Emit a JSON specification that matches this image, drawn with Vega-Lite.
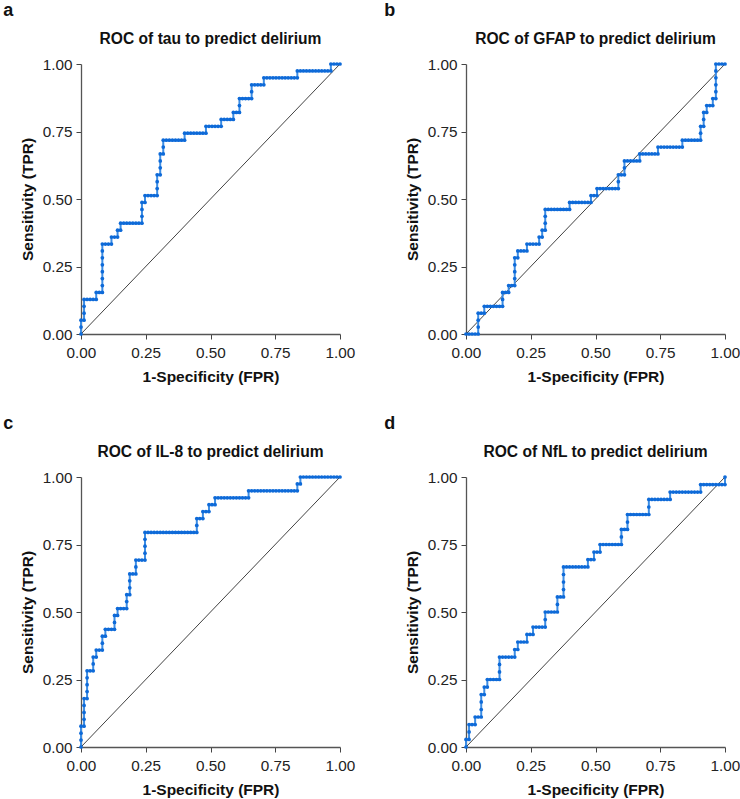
{
  "$schema": "https://vega.github.io/schema/vega-lite/v6.json",
  "background": "white",
  "padding": {"left": 3, "top": 2, "right": 0, "bottom": 0},
  "config": {
    "view": {"stroke": null},
    "font": "Liberation Sans",
    "axis": {"labelFont": "Liberation Sans", "labelFontSize": 15.3, "labelColor": "#222", "labelFlush": false, "labelOverlap": false, "titleFont": "Liberation Sans", "titleFontSize": 15.5, "titleFontWeight": "bold", "titleColor": "#111", "domainColor": "#555", "domainWidth": 1.3, "tickColor": "#444", "tickSize": 5, "grid": false},
    "axisX": {"labelPadding": 6, "titlePadding": 9},
    "axisY": {"labelPadding": 4, "titlePadding": 7},
    "title": {"font": "Liberation Sans", "fontSize": 15.6, "fontWeight": "bold", "color": "#111"}
  },
  "datasets": {
    "diag": [{"x": 0, "y": 0}, {"x": 1, "y": 1}],
    "a": [
      {"x":0,"y":0},{"x":0,"y":0.0256},{"x":0,"y":0.0513},{"x":0.0118,"y":0.0513},{"x":0.0118,"y":0.0769},{"x":0.0118,"y":0.1026},{"x":0.0118,"y":0.1282},{"x":0.0235,"y":0.1282},{"x":0.0353,"y":0.1282},{"x":0.0471,"y":0.1282},{"x":0.0588,"y":0.1282},{"x":0.0588,"y":0.1538},{"x":0.0706,"y":0.1538},{"x":0.0824,"y":0.1538},{"x":0.0824,"y":0.1795},{"x":0.0824,"y":0.2051},{"x":0.0824,"y":0.2308},{"x":0.0824,"y":0.2564},{"x":0.0824,"y":0.2821},{"x":0.0824,"y":0.3077},{"x":0.0824,"y":0.3333},{"x":0.0941,"y":0.3333},{"x":0.1059,"y":0.3333},{"x":0.1176,"y":0.3333},{"x":0.1176,"y":0.359},{"x":0.1294,"y":0.359},{"x":0.1412,"y":0.359},{"x":0.1412,"y":0.3846},{"x":0.1529,"y":0.3846},{"x":0.1529,"y":0.4103},{"x":0.1647,"y":0.4103},{"x":0.1765,"y":0.4103},{"x":0.1882,"y":0.4103},{"x":0.2,"y":0.4103},{"x":0.2118,"y":0.4103},{"x":0.2235,"y":0.4103},{"x":0.2353,"y":0.4103},{"x":0.2353,"y":0.4359},{"x":0.2353,"y":0.4615},{"x":0.2353,"y":0.4872},{"x":0.2471,"y":0.4872},{"x":0.2471,"y":0.5128},{"x":0.2588,"y":0.5128},{"x":0.2706,"y":0.5128},{"x":0.2824,"y":0.5128},{"x":0.2941,"y":0.5128},{"x":0.2941,"y":0.5385},{"x":0.2941,"y":0.5641},{"x":0.2941,"y":0.5897},{"x":0.3059,"y":0.5897},{"x":0.3059,"y":0.6154},{"x":0.3059,"y":0.641},{"x":0.3059,"y":0.6667},{"x":0.3176,"y":0.6667},{"x":0.3176,"y":0.6923},{"x":0.3176,"y":0.7179},{"x":0.3294,"y":0.7179},{"x":0.3412,"y":0.7179},{"x":0.3529,"y":0.7179},{"x":0.3647,"y":0.7179},{"x":0.3765,"y":0.7179},{"x":0.3882,"y":0.7179},{"x":0.4,"y":0.7179},{"x":0.4,"y":0.7436},{"x":0.4118,"y":0.7436},{"x":0.4235,"y":0.7436},{"x":0.4353,"y":0.7436},{"x":0.4471,"y":0.7436},{"x":0.4588,"y":0.7436},{"x":0.4706,"y":0.7436},{"x":0.4824,"y":0.7436},{"x":0.4824,"y":0.7692},{"x":0.4941,"y":0.7692},{"x":0.5059,"y":0.7692},{"x":0.5176,"y":0.7692},{"x":0.5294,"y":0.7692},{"x":0.5412,"y":0.7692},{"x":0.5412,"y":0.7949},{"x":0.5529,"y":0.7949},{"x":0.5647,"y":0.7949},{"x":0.5765,"y":0.7949},{"x":0.5882,"y":0.7949},{"x":0.5882,"y":0.8205},{"x":0.6,"y":0.8205},{"x":0.6118,"y":0.8205},{"x":0.6118,"y":0.8462},{"x":0.6118,"y":0.8718},{"x":0.6235,"y":0.8718},{"x":0.6353,"y":0.8718},{"x":0.6471,"y":0.8718},{"x":0.6588,"y":0.8718},{"x":0.6588,"y":0.8974},{"x":0.6588,"y":0.9231},{"x":0.6706,"y":0.9231},{"x":0.6824,"y":0.9231},{"x":0.6941,"y":0.9231},{"x":0.7059,"y":0.9231},{"x":0.7059,"y":0.9487},{"x":0.7176,"y":0.9487},{"x":0.7294,"y":0.9487},{"x":0.7412,"y":0.9487},{"x":0.7529,"y":0.9487},{"x":0.7647,"y":0.9487},{"x":0.7765,"y":0.9487},{"x":0.7882,"y":0.9487},{"x":0.8,"y":0.9487},{"x":0.8118,"y":0.9487},{"x":0.8235,"y":0.9487},{"x":0.8353,"y":0.9487},{"x":0.8353,"y":0.9744},{"x":0.8471,"y":0.9744},{"x":0.8588,"y":0.9744},{"x":0.8706,"y":0.9744},{"x":0.8824,"y":0.9744},{"x":0.8941,"y":0.9744},{"x":0.9059,"y":0.9744},{"x":0.9176,"y":0.9744},{"x":0.9294,"y":0.9744},{"x":0.9412,"y":0.9744},{"x":0.9529,"y":0.9744},{"x":0.9647,"y":0.9744},{"x":0.9647,"y":1},{"x":0.9765,"y":1},{"x":0.9882,"y":1},{"x":1,"y":1}
    ],
    "b": [
      {"x":0,"y":0},{"x":0.0118,"y":0},{"x":0.0235,"y":0},{"x":0.0353,"y":0},{"x":0.0471,"y":0},{"x":0.0471,"y":0.0256},{"x":0.0471,"y":0.0513},{"x":0.0471,"y":0.0769},{"x":0.0588,"y":0.0769},{"x":0.0706,"y":0.0769},{"x":0.0706,"y":0.1026},{"x":0.0824,"y":0.1026},{"x":0.0941,"y":0.1026},{"x":0.1059,"y":0.1026},{"x":0.1176,"y":0.1026},{"x":0.1294,"y":0.1026},{"x":0.1412,"y":0.1026},{"x":0.1412,"y":0.1282},{"x":0.1412,"y":0.1538},{"x":0.1529,"y":0.1538},{"x":0.1647,"y":0.1538},{"x":0.1647,"y":0.1795},{"x":0.1765,"y":0.1795},{"x":0.1882,"y":0.1795},{"x":0.1882,"y":0.2051},{"x":0.1882,"y":0.2308},{"x":0.1882,"y":0.2564},{"x":0.1882,"y":0.2821},{"x":0.2,"y":0.2821},{"x":0.2,"y":0.3077},{"x":0.2118,"y":0.3077},{"x":0.2235,"y":0.3077},{"x":0.2353,"y":0.3077},{"x":0.2353,"y":0.3333},{"x":0.2471,"y":0.3333},{"x":0.2588,"y":0.3333},{"x":0.2706,"y":0.3333},{"x":0.2824,"y":0.3333},{"x":0.2824,"y":0.359},{"x":0.2941,"y":0.359},{"x":0.2941,"y":0.3846},{"x":0.3059,"y":0.3846},{"x":0.3059,"y":0.4103},{"x":0.3059,"y":0.4359},{"x":0.3059,"y":0.4615},{"x":0.3176,"y":0.4615},{"x":0.3294,"y":0.4615},{"x":0.3412,"y":0.4615},{"x":0.3529,"y":0.4615},{"x":0.3647,"y":0.4615},{"x":0.3765,"y":0.4615},{"x":0.3882,"y":0.4615},{"x":0.4,"y":0.4615},{"x":0.4,"y":0.4872},{"x":0.4118,"y":0.4872},{"x":0.4235,"y":0.4872},{"x":0.4353,"y":0.4872},{"x":0.4471,"y":0.4872},{"x":0.4588,"y":0.4872},{"x":0.4706,"y":0.4872},{"x":0.4824,"y":0.4872},{"x":0.4824,"y":0.5128},{"x":0.4941,"y":0.5128},{"x":0.5059,"y":0.5128},{"x":0.5059,"y":0.5385},{"x":0.5176,"y":0.5385},{"x":0.5294,"y":0.5385},{"x":0.5412,"y":0.5385},{"x":0.5529,"y":0.5385},{"x":0.5647,"y":0.5385},{"x":0.5765,"y":0.5385},{"x":0.5882,"y":0.5385},{"x":0.5882,"y":0.5641},{"x":0.5882,"y":0.5897},{"x":0.6,"y":0.5897},{"x":0.6118,"y":0.5897},{"x":0.6118,"y":0.6154},{"x":0.6118,"y":0.641},{"x":0.6235,"y":0.641},{"x":0.6353,"y":0.641},{"x":0.6471,"y":0.641},{"x":0.6588,"y":0.641},{"x":0.6706,"y":0.641},{"x":0.6706,"y":0.6667},{"x":0.6824,"y":0.6667},{"x":0.6941,"y":0.6667},{"x":0.7059,"y":0.6667},{"x":0.7176,"y":0.6667},{"x":0.7294,"y":0.6667},{"x":0.7412,"y":0.6667},{"x":0.7412,"y":0.6923},{"x":0.7529,"y":0.6923},{"x":0.7647,"y":0.6923},{"x":0.7765,"y":0.6923},{"x":0.7882,"y":0.6923},{"x":0.8,"y":0.6923},{"x":0.8118,"y":0.6923},{"x":0.8235,"y":0.6923},{"x":0.8353,"y":0.6923},{"x":0.8353,"y":0.7179},{"x":0.8471,"y":0.7179},{"x":0.8588,"y":0.7179},{"x":0.8706,"y":0.7179},{"x":0.8824,"y":0.7179},{"x":0.8941,"y":0.7179},{"x":0.9059,"y":0.7179},{"x":0.9059,"y":0.7436},{"x":0.9059,"y":0.7692},{"x":0.9176,"y":0.7692},{"x":0.9176,"y":0.7949},{"x":0.9176,"y":0.8205},{"x":0.9294,"y":0.8205},{"x":0.9294,"y":0.8462},{"x":0.9412,"y":0.8462},{"x":0.9529,"y":0.8462},{"x":0.9529,"y":0.8718},{"x":0.9647,"y":0.8718},{"x":0.9647,"y":0.8974},{"x":0.9647,"y":0.9231},{"x":0.9647,"y":0.9487},{"x":0.9647,"y":0.9744},{"x":0.9647,"y":1},{"x":0.9765,"y":1},{"x":0.9882,"y":1},{"x":1,"y":1}
    ],
    "c": [
      {"x":0,"y":0},{"x":0,"y":0.0256},{"x":0,"y":0.0513},{"x":0,"y":0.0769},{"x":0.0118,"y":0.0769},{"x":0.0118,"y":0.1026},{"x":0.0118,"y":0.1282},{"x":0.0118,"y":0.1538},{"x":0.0118,"y":0.1795},{"x":0.0235,"y":0.1795},{"x":0.0235,"y":0.2051},{"x":0.0235,"y":0.2308},{"x":0.0235,"y":0.2564},{"x":0.0235,"y":0.2821},{"x":0.0353,"y":0.2821},{"x":0.0471,"y":0.2821},{"x":0.0471,"y":0.3077},{"x":0.0471,"y":0.3333},{"x":0.0588,"y":0.3333},{"x":0.0588,"y":0.359},{"x":0.0706,"y":0.359},{"x":0.0824,"y":0.359},{"x":0.0824,"y":0.3846},{"x":0.0824,"y":0.4103},{"x":0.0941,"y":0.4103},{"x":0.0941,"y":0.4359},{"x":0.1059,"y":0.4359},{"x":0.1176,"y":0.4359},{"x":0.1294,"y":0.4359},{"x":0.1294,"y":0.4615},{"x":0.1294,"y":0.4872},{"x":0.1412,"y":0.4872},{"x":0.1412,"y":0.5128},{"x":0.1529,"y":0.5128},{"x":0.1647,"y":0.5128},{"x":0.1765,"y":0.5128},{"x":0.1765,"y":0.5385},{"x":0.1765,"y":0.5641},{"x":0.1882,"y":0.5641},{"x":0.1882,"y":0.5897},{"x":0.1882,"y":0.6154},{"x":0.1882,"y":0.641},{"x":0.2,"y":0.641},{"x":0.2118,"y":0.641},{"x":0.2118,"y":0.6667},{"x":0.2118,"y":0.6923},{"x":0.2235,"y":0.6923},{"x":0.2353,"y":0.6923},{"x":0.2471,"y":0.6923},{"x":0.2471,"y":0.7179},{"x":0.2471,"y":0.7436},{"x":0.2471,"y":0.7692},{"x":0.2471,"y":0.7949},{"x":0.2588,"y":0.7949},{"x":0.2706,"y":0.7949},{"x":0.2824,"y":0.7949},{"x":0.2941,"y":0.7949},{"x":0.3059,"y":0.7949},{"x":0.3176,"y":0.7949},{"x":0.3294,"y":0.7949},{"x":0.3412,"y":0.7949},{"x":0.3529,"y":0.7949},{"x":0.3647,"y":0.7949},{"x":0.3765,"y":0.7949},{"x":0.3882,"y":0.7949},{"x":0.4,"y":0.7949},{"x":0.4118,"y":0.7949},{"x":0.4235,"y":0.7949},{"x":0.4353,"y":0.7949},{"x":0.4471,"y":0.7949},{"x":0.4471,"y":0.8205},{"x":0.4471,"y":0.8462},{"x":0.4588,"y":0.8462},{"x":0.4706,"y":0.8462},{"x":0.4706,"y":0.8718},{"x":0.4824,"y":0.8718},{"x":0.4941,"y":0.8718},{"x":0.4941,"y":0.8974},{"x":0.5059,"y":0.8974},{"x":0.5176,"y":0.8974},{"x":0.5176,"y":0.9231},{"x":0.5294,"y":0.9231},{"x":0.5412,"y":0.9231},{"x":0.5529,"y":0.9231},{"x":0.5647,"y":0.9231},{"x":0.5765,"y":0.9231},{"x":0.5882,"y":0.9231},{"x":0.6,"y":0.9231},{"x":0.6118,"y":0.9231},{"x":0.6235,"y":0.9231},{"x":0.6353,"y":0.9231},{"x":0.6471,"y":0.9231},{"x":0.6471,"y":0.9487},{"x":0.6588,"y":0.9487},{"x":0.6706,"y":0.9487},{"x":0.6824,"y":0.9487},{"x":0.6941,"y":0.9487},{"x":0.7059,"y":0.9487},{"x":0.7176,"y":0.9487},{"x":0.7294,"y":0.9487},{"x":0.7412,"y":0.9487},{"x":0.7529,"y":0.9487},{"x":0.7647,"y":0.9487},{"x":0.7765,"y":0.9487},{"x":0.7882,"y":0.9487},{"x":0.8,"y":0.9487},{"x":0.8118,"y":0.9487},{"x":0.8235,"y":0.9487},{"x":0.8353,"y":0.9487},{"x":0.8353,"y":0.9744},{"x":0.8471,"y":0.9744},{"x":0.8471,"y":1},{"x":0.8588,"y":1},{"x":0.8706,"y":1},{"x":0.8824,"y":1},{"x":0.8941,"y":1},{"x":0.9059,"y":1},{"x":0.9176,"y":1},{"x":0.9294,"y":1},{"x":0.9412,"y":1},{"x":0.9529,"y":1},{"x":0.9647,"y":1},{"x":0.9765,"y":1},{"x":0.9882,"y":1},{"x":1,"y":1}
    ],
    "d": [
      {"x":0,"y":0},{"x":0,"y":0.0278},{"x":0.0118,"y":0.0278},{"x":0.0118,"y":0.0556},{"x":0.0118,"y":0.0833},{"x":0.0235,"y":0.0833},{"x":0.0353,"y":0.0833},{"x":0.0353,"y":0.1111},{"x":0.0471,"y":0.1111},{"x":0.0588,"y":0.1111},{"x":0.0588,"y":0.1389},{"x":0.0588,"y":0.1667},{"x":0.0588,"y":0.1944},{"x":0.0706,"y":0.1944},{"x":0.0706,"y":0.2222},{"x":0.0824,"y":0.2222},{"x":0.0824,"y":0.25},{"x":0.0941,"y":0.25},{"x":0.1059,"y":0.25},{"x":0.1176,"y":0.25},{"x":0.1294,"y":0.25},{"x":0.1294,"y":0.2778},{"x":0.1294,"y":0.3056},{"x":0.1294,"y":0.3333},{"x":0.1412,"y":0.3333},{"x":0.1529,"y":0.3333},{"x":0.1647,"y":0.3333},{"x":0.1765,"y":0.3333},{"x":0.1882,"y":0.3333},{"x":0.1882,"y":0.3611},{"x":0.2,"y":0.3611},{"x":0.2,"y":0.3889},{"x":0.2118,"y":0.3889},{"x":0.2235,"y":0.3889},{"x":0.2353,"y":0.3889},{"x":0.2353,"y":0.4167},{"x":0.2471,"y":0.4167},{"x":0.2588,"y":0.4167},{"x":0.2588,"y":0.4444},{"x":0.2706,"y":0.4444},{"x":0.2824,"y":0.4444},{"x":0.2941,"y":0.4444},{"x":0.3059,"y":0.4444},{"x":0.3059,"y":0.4722},{"x":0.3059,"y":0.5},{"x":0.3176,"y":0.5},{"x":0.3294,"y":0.5},{"x":0.3412,"y":0.5},{"x":0.3529,"y":0.5},{"x":0.3529,"y":0.5278},{"x":0.3529,"y":0.5556},{"x":0.3647,"y":0.5556},{"x":0.3765,"y":0.5556},{"x":0.3765,"y":0.5833},{"x":0.3765,"y":0.6111},{"x":0.3765,"y":0.6389},{"x":0.3765,"y":0.6667},{"x":0.3882,"y":0.6667},{"x":0.4,"y":0.6667},{"x":0.4118,"y":0.6667},{"x":0.4235,"y":0.6667},{"x":0.4353,"y":0.6667},{"x":0.4471,"y":0.6667},{"x":0.4588,"y":0.6667},{"x":0.4706,"y":0.6667},{"x":0.4706,"y":0.6944},{"x":0.4824,"y":0.6944},{"x":0.4941,"y":0.6944},{"x":0.4941,"y":0.7222},{"x":0.5059,"y":0.7222},{"x":0.5176,"y":0.7222},{"x":0.5176,"y":0.75},{"x":0.5294,"y":0.75},{"x":0.5412,"y":0.75},{"x":0.5529,"y":0.75},{"x":0.5647,"y":0.75},{"x":0.5765,"y":0.75},{"x":0.5882,"y":0.75},{"x":0.6,"y":0.75},{"x":0.6,"y":0.7778},{"x":0.6,"y":0.8056},{"x":0.6118,"y":0.8056},{"x":0.6235,"y":0.8056},{"x":0.6235,"y":0.8333},{"x":0.6235,"y":0.8611},{"x":0.6353,"y":0.8611},{"x":0.6471,"y":0.8611},{"x":0.6588,"y":0.8611},{"x":0.6706,"y":0.8611},{"x":0.6824,"y":0.8611},{"x":0.6941,"y":0.8611},{"x":0.7059,"y":0.8611},{"x":0.7059,"y":0.8889},{"x":0.7059,"y":0.9167},{"x":0.7176,"y":0.9167},{"x":0.7294,"y":0.9167},{"x":0.7412,"y":0.9167},{"x":0.7529,"y":0.9167},{"x":0.7647,"y":0.9167},{"x":0.7765,"y":0.9167},{"x":0.7882,"y":0.9167},{"x":0.7882,"y":0.9444},{"x":0.8,"y":0.9444},{"x":0.8118,"y":0.9444},{"x":0.8235,"y":0.9444},{"x":0.8353,"y":0.9444},{"x":0.8471,"y":0.9444},{"x":0.8588,"y":0.9444},{"x":0.8706,"y":0.9444},{"x":0.8824,"y":0.9444},{"x":0.8941,"y":0.9444},{"x":0.9059,"y":0.9444},{"x":0.9059,"y":0.9722},{"x":0.9176,"y":0.9722},{"x":0.9294,"y":0.9722},{"x":0.9412,"y":0.9722},{"x":0.9529,"y":0.9722},{"x":0.9647,"y":0.9722},{"x":0.9765,"y":0.9722},{"x":0.9882,"y":0.9722},{"x":1,"y":0.9722},{"x":1,"y":1}
    ]
  },
  "vconcat": [
    {
      "spacing": 29,
      "hconcat": [
        {
          "title": {"text": "a", "anchor": "start", "frame": "bounds", "fontSize": 18, "dx": -17, "offset": 12},
          "vconcat": [{
            "title": {"text": "ROC of tau to predict delirium", "offset": 9},
            "width": 259, "height": 270,
            "encoding": {
              "x": {"field": "x", "type": "quantitative", "scale": {"domain": [0, 1], "nice": false}, "axis": {"values": [0, 0.25, 0.5, 0.75, 1], "format": ".2f", "title": "1-Specificity (FPR)"}},
              "y": {"field": "y", "type": "quantitative", "scale": {"domain": [0, 1], "nice": false}, "axis": {"values": [0, 0.25, 0.5, 0.75, 1], "format": ".2f", "title": "Sensitivity (TPR)"}}
            },
            "layer": [
              {"data": {"name": "diag"}, "mark": {"type": "line", "color": "#111", "strokeWidth": 0.8}, "encoding": {}},
              {"data": {"name": "a"}, "mark": {"type": "line", "color": "#3d8de3", "strokeWidth": 2}, "encoding": {"order": [{"field": "x", "type": "quantitative"}, {"field": "y", "type": "quantitative"}]}},
              {"data": {"name": "a"}, "mark": {"type": "point", "filled": true, "color": "#0e6ad8", "size": 14, "opacity": 1}, "encoding": {}}
            ]
          }]
        },
        {
          "title": {"text": "b", "anchor": "start", "frame": "bounds", "fontSize": 18, "dx": -21, "offset": 12},
          "vconcat": [{
            "title": {"text": "ROC of GFAP to predict delirium", "offset": 9},
            "width": 259, "height": 270,
            "encoding": {
              "x": {"field": "x", "type": "quantitative", "scale": {"domain": [0, 1], "nice": false}, "axis": {"values": [0, 0.25, 0.5, 0.75, 1], "format": ".2f", "title": "1-Specificity (FPR)"}},
              "y": {"field": "y", "type": "quantitative", "scale": {"domain": [0, 1], "nice": false}, "axis": {"values": [0, 0.25, 0.5, 0.75, 1], "format": ".2f", "title": "Sensitivity (TPR)"}}
            },
            "layer": [
              {"data": {"name": "diag"}, "mark": {"type": "line", "color": "#111", "strokeWidth": 0.8}, "encoding": {}},
              {"data": {"name": "b"}, "mark": {"type": "line", "color": "#3d8de3", "strokeWidth": 2}, "encoding": {"order": [{"field": "x", "type": "quantitative"}, {"field": "y", "type": "quantitative"}]}},
              {"data": {"name": "b"}, "mark": {"type": "point", "filled": true, "color": "#0e6ad8", "size": 14, "opacity": 1}, "encoding": {}}
            ]
          }]
        }
      ]
    },
    {
      "spacing": 29,
      "hconcat": [
        {
          "title": {"text": "c", "anchor": "start", "frame": "bounds", "fontSize": 18, "dx": -17, "offset": 12},
          "vconcat": [{
            "title": {"text": "ROC of IL-8 to predict delirium", "offset": 9},
            "width": 259, "height": 270,
            "encoding": {
              "x": {"field": "x", "type": "quantitative", "scale": {"domain": [0, 1], "nice": false}, "axis": {"values": [0, 0.25, 0.5, 0.75, 1], "format": ".2f", "title": "1-Specificity (FPR)"}},
              "y": {"field": "y", "type": "quantitative", "scale": {"domain": [0, 1], "nice": false}, "axis": {"values": [0, 0.25, 0.5, 0.75, 1], "format": ".2f", "title": "Sensitivity (TPR)"}}
            },
            "layer": [
              {"data": {"name": "diag"}, "mark": {"type": "line", "color": "#111", "strokeWidth": 0.8}, "encoding": {}},
              {"data": {"name": "c"}, "mark": {"type": "line", "color": "#3d8de3", "strokeWidth": 2}, "encoding": {"order": [{"field": "x", "type": "quantitative"}, {"field": "y", "type": "quantitative"}]}},
              {"data": {"name": "c"}, "mark": {"type": "point", "filled": true, "color": "#0e6ad8", "size": 14, "opacity": 1}, "encoding": {}}
            ]
          }]
        },
        {
          "title": {"text": "d", "anchor": "start", "frame": "bounds", "fontSize": 18, "dx": -21, "offset": 12},
          "vconcat": [{
            "title": {"text": "ROC of NfL to predict delirium", "offset": 9},
            "width": 259, "height": 270,
            "encoding": {
              "x": {"field": "x", "type": "quantitative", "scale": {"domain": [0, 1], "nice": false}, "axis": {"values": [0, 0.25, 0.5, 0.75, 1], "format": ".2f", "title": "1-Specificity (FPR)"}},
              "y": {"field": "y", "type": "quantitative", "scale": {"domain": [0, 1], "nice": false}, "axis": {"values": [0, 0.25, 0.5, 0.75, 1], "format": ".2f", "title": "Sensitivity (TPR)"}}
            },
            "layer": [
              {"data": {"name": "diag"}, "mark": {"type": "line", "color": "#111", "strokeWidth": 0.8}, "encoding": {}},
              {"data": {"name": "d"}, "mark": {"type": "line", "color": "#3d8de3", "strokeWidth": 2}, "encoding": {"order": [{"field": "x", "type": "quantitative"}, {"field": "y", "type": "quantitative"}]}},
              {"data": {"name": "d"}, "mark": {"type": "point", "filled": true, "color": "#0e6ad8", "size": 14, "opacity": 1}, "encoding": {}}
            ]
          }]
        }
      ]
    }
  ],
  "spacing": 30
}
